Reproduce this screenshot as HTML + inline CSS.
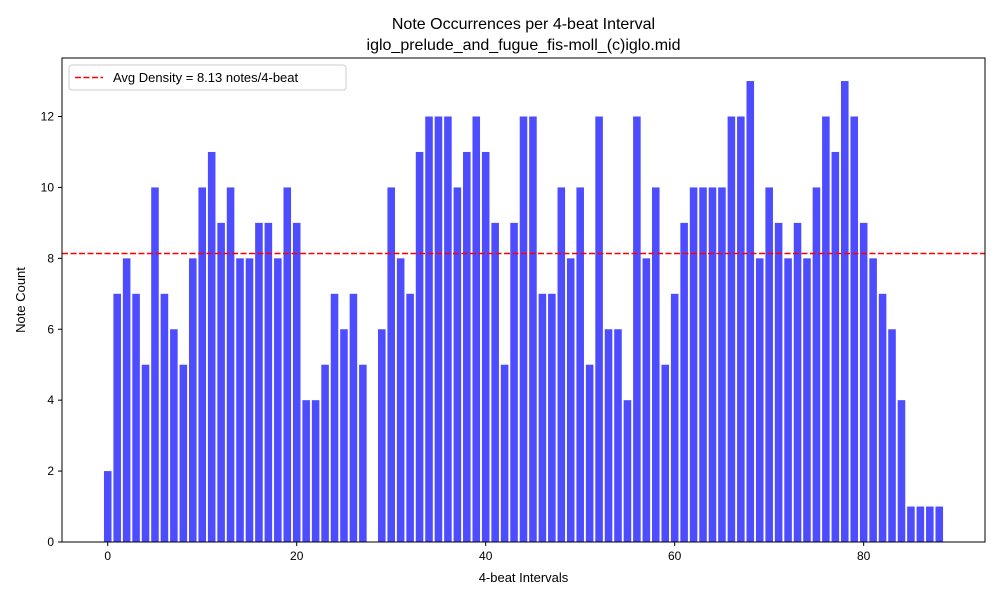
<!DOCTYPE html>
<html><head><meta charset="utf-8"><style>
body{margin:0;background:#fff;}
svg text{font-family:"Liberation Sans","DejaVu Sans",sans-serif;fill:#000;}
</style></head><body>
<svg id="chart" width="1000" height="600" xmlns="http://www.w3.org/2000/svg"></svg>
<script>
const counts=[2,7,8,7,5,10,7,6,5,8,10,11,9,10,8,8,9,9,8,10,9,4,4,5,7,6,7,5,0,6,10,8,7,11,12,12,12,10,11,12,11,9,5,9,12,12,7,7,10,8,10,5,12,6,6,4,12,8,10,5,7,9,10,10,10,10,12,12,13,8,10,9,8,9,8,10,12,11,13,12,9,8,7,6,4,1,1,1,1];
const xTicks=[0,20,40,60,80];
const yTicks=[0,2,4,6,8,10,12];
const svg=document.getElementById('chart');
const NS='http://www.w3.org/2000/svg';
const L=62,R=985,T=58,B=542;
const n=counts.length;
const xmin=-0.4-0.05*(n-1+0.8), xmax=n-1+0.4+0.05*(n-1+0.8);
const ymax=Math.max(...counts)*1.05;
const sx=v=>L+(v-xmin)/(xmax-xmin)*(R-L);
const sy=v=>B-v/ymax*(B-T);
function el(tag,attrs,parent){const e=document.createElementNS(NS,tag);for(const k in attrs)e.setAttribute(k,attrs[k]);(parent||svg).appendChild(e);return e;}
function txt(s,attrs){const e=el('text',attrs);e.textContent=s;return e;}
const bars=el('g',{});


counts.forEach((c,i)=>{
  const r=el('rect',{x:sx(i-0.4),y:sy(c),width:sx(i+0.4)-sx(i-0.4),height:sy(0)-sy(c),fill:'#4d4dff'},bars);
  
  
});
const avg=counts.reduce((a,b)=>a+b,0)/n;
const al=el('line',{x1:L,x2:R,y1:sy(avg),y2:sy(avg),stroke:'#ff0000','stroke-width':1.5,'stroke-dasharray':'6,2.5'});


const frame=el('rect',{x:L,y:T,width:R-L,height:B-T,fill:'none',stroke:'#000','stroke-width':1});


xTicks.forEach(t=>{
  el('line',{x1:sx(t),x2:sx(t),y1:B,y2:B+4,stroke:'#000'});
  const e=txt(t,{x:sx(t),y:B+18,'text-anchor':'middle','font-size':12});
  
  
});
yTicks.forEach(t=>{
  el('line',{x1:L-4,x2:L,y1:sy(t),y2:sy(t),stroke:'#000'});
  const e=txt(t,{x:L-8,y:sy(t)+4,'text-anchor':'end','font-size':12});
  
  
});
let e;
e=txt('4-beat Intervals',{x:(L+R)/2,y:582,'text-anchor':'middle','font-size':13});

e=txt('Note Count',{x:25,y:(T+B)/2,'text-anchor':'middle','font-size':13,transform:'rotate(-90 25 '+(T+B)/2+')'});

e=txt('Note Occurrences per 4-beat Interval',{x:(L+R)/2,y:29,'text-anchor':'middle','font-size':16});

e=txt('iglo_prelude_and_fugue_fis-moll_(c)iglo.mid',{x:(L+R)/2,y:50,'text-anchor':'middle','font-size':16});

const lg=el('g',{});


el('rect',{x:69,y:65,width:277,height:25,rx:3,fill:'#fff',stroke:'#ccc'},lg);
el('line',{x1:75,x2:103,y1:77.5,y2:77.5,stroke:'#ff0000','stroke-width':1.5,'stroke-dasharray':'6,2.5'},lg);
const lt=el('text',{x:113,y:82,'font-size':13},lg);
lt.textContent='Avg Density = '+avg.toFixed(2)+' notes/4-beat';


</script>
</body></html>
